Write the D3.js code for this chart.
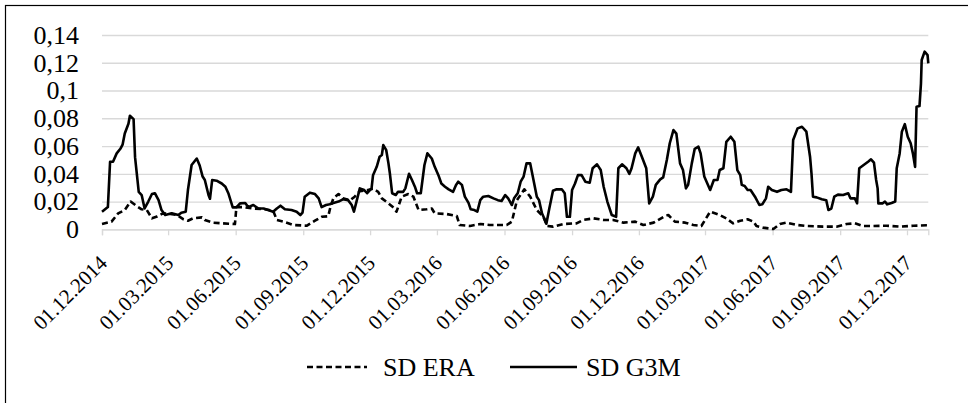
<!DOCTYPE html>
<html>
<head>
<meta charset="utf-8">
<script src="https://cdn.jsdelivr.net/npm/d3@7"></script>
<style>
  body {
    margin: 0;
    background: #fff;
  }
  svg {
    display: block;
  }
</style>
</head>
<body>
<svg id="chart" width="968" height="403"></svg>
<script>
// tick labels on the date axis (every 3 months)
const tickLabels = [
  '01.12.2014', '01.03.2015', '01.06.2015', '01.09.2015', '01.12.2015',
  '01.03.2016', '01.06.2016', '01.09.2016', '01.12.2016', '01.03.2017',
  '01.06.2017', '01.09.2017', '01.12.2017'
];
const yTicks = [0, 0.02, 0.04, 0.06, 0.08, 0.1, 0.12, 0.14];
const seriesNames = ['SD ERA', 'SD G3M'];

// SD ERA (dashed)
const eraDates = [
  '2014-12-01', '2014-12-14', '2014-12-23', '2015-01-01', '2015-01-09', '2015-01-17',
  '2015-01-24', '2015-01-31', '2015-02-07', '2015-02-13', '2015-02-22', '2015-03-04',
  '2015-03-13', '2015-03-22', '2015-03-28', '2015-04-04', '2015-04-16', '2015-04-20',
  '2015-05-01', '2015-05-15', '2015-05-31', '2015-06-02', '2015-06-11', '2015-06-25',
  '2015-07-11', '2015-07-22', '2015-07-27', '2015-08-05', '2015-08-18', '2015-09-06',
  '2015-09-17', '2015-09-26', '2015-10-05', '2015-10-08', '2015-10-12', '2015-10-19',
  '2015-10-25', '2015-11-04', '2015-11-10', '2015-11-17', '2015-11-25', '2015-12-05',
  '2015-12-12', '2015-12-17', '2015-12-26', '2016-01-01', '2016-01-06', '2016-01-13',
  '2016-01-22', '2016-01-29', '2016-02-05', '2016-02-16', '2016-02-23', '2016-02-27',
  '2016-03-14', '2016-03-28', '2016-04-01', '2016-04-15', '2016-04-29', '2016-05-12',
  '2016-06-04', '2016-06-11', '2016-06-18', '2016-06-28', '2016-07-06', '2016-07-15',
  '2016-07-24', '2016-07-29', '2016-08-06', '2016-08-20', '2016-09-07', '2016-09-16',
  '2016-09-30', '2016-10-14', '2016-10-27', '2016-11-10', '2016-11-26', '2016-12-07',
  '2016-12-21', '2017-01-06', '2017-01-10', '2017-01-19', '2017-02-02', '2017-02-13',
  '2017-02-24', '2017-03-08', '2017-03-21', '2017-03-30', '2017-04-08', '2017-04-18',
  '2017-04-28', '2017-05-06', '2017-05-10', '2017-05-19', '2017-06-02', '2017-06-11',
  '2017-06-20', '2017-07-04', '2017-07-17', '2017-08-09', '2017-08-27', '2017-09-10',
  '2017-09-21', '2017-10-02', '2017-10-16', '2017-11-03', '2017-11-21', '2017-12-10',
  '2017-12-30'
];
const eraValues = [
  0.0038, 0.0055, 0.0115, 0.0139, 0.020, 0.0168,
  0.0144, 0.0139, 0.0079, 0.009, 0.0115, 0.011,
  0.0103, 0.0072, 0.0062, 0.0079, 0.0086, 0.0067,
  0.0048, 0.0043, 0.0038, 0.016, 0.016, 0.015,
  0.0144, 0.0134, 0.0067, 0.0055, 0.0031, 0.0026,
  0.0062, 0.009, 0.0094, 0.016, 0.0223, 0.0254,
  0.0223, 0.021, 0.0235, 0.0275, 0.028, 0.0292,
  0.027, 0.0223, 0.0187, 0.016, 0.0127, 0.0235,
  0.0254, 0.0235, 0.0139, 0.0144, 0.015, 0.0115,
  0.011, 0.0096, 0.0031, 0.0024, 0.0038, 0.0031,
  0.0031, 0.0055, 0.021, 0.0288, 0.0235, 0.0139,
  0.009, 0.0024, 0.0019, 0.0038, 0.0043, 0.0067,
  0.0079, 0.0067, 0.0067, 0.0048, 0.0055, 0.0031,
  0.0048, 0.0096, 0.0103, 0.0055, 0.0048, 0.0031,
  0.0024, 0.0127, 0.0103, 0.0079, 0.0043, 0.0062,
  0.0072, 0.0055, 0.0024, 0.0012, 0.0002, 0.0038,
  0.0048, 0.0031, 0.0024, 0.0019, 0.0019, 0.0038,
  0.0043, 0.0024, 0.0024, 0.0026, 0.0019, 0.0026,
  0.0029
];

// SD G3M (solid)
const g3mDates = [
  '2014-12-01', '2014-12-09', '2014-12-12', '2014-12-16', '2014-12-21', '2014-12-26',
  '2014-12-29', '2015-01-01', '2015-01-06', '2015-01-08', '2015-01-13', '2015-01-15',
  '2015-01-20', '2015-01-24', '2015-01-28', '2015-02-02', '2015-02-07', '2015-02-11',
  '2015-02-16', '2015-02-20', '2015-02-25', '2015-03-06', '2015-03-15', '2015-03-19',
  '2015-03-25', '2015-03-28', '2015-04-02', '2015-04-09', '2015-04-13', '2015-04-17',
  '2015-04-20', '2015-04-25', '2015-04-27', '2015-04-30', '2015-05-06', '2015-05-13',
  '2015-05-18', '2015-05-22', '2015-05-28', '2015-06-02', '2015-06-07', '2015-06-14',
  '2015-06-18', '2015-06-25', '2015-07-02', '2015-07-09', '2015-07-15', '2015-07-22',
  '2015-07-27', '2015-08-01', '2015-08-07', '2015-08-16', '2015-08-23', '2015-08-28',
  '2015-08-31', '2015-09-03', '2015-09-10', '2015-09-17', '2015-09-22', '2015-09-26',
  '2015-10-02', '2015-10-07', '2015-10-12', '2015-10-19', '2015-10-25', '2015-11-01',
  '2015-11-06', '2015-11-09', '2015-11-13', '2015-11-17', '2015-11-23', '2015-11-27',
  '2015-12-03', '2015-12-05', '2015-12-10', '2015-12-14', '2015-12-17', '2015-12-19',
  '2015-12-23', '2015-12-26', '2015-12-28', '2015-12-31', '2016-01-05', '2016-01-08',
  '2016-01-15', '2016-01-18', '2016-01-23', '2016-01-27', '2016-01-31', '2016-02-03',
  '2016-02-08', '2016-02-13', '2016-02-17', '2016-02-23', '2016-02-27', '2016-03-03',
  '2016-03-07', '2016-03-12', '2016-03-17', '2016-03-23', '2016-03-27', '2016-03-30',
  '2016-04-04', '2016-04-08', '2016-04-13', '2016-04-16', '2016-04-21', '2016-04-25',
  '2016-04-29', '2016-05-03', '2016-05-10', '2016-05-17', '2016-05-23', '2016-05-28',
  '2016-06-02', '2016-06-06', '2016-06-11', '2016-06-14', '2016-06-19', '2016-06-23',
  '2016-06-27', '2016-07-01', '2016-07-06', '2016-07-10', '2016-07-15', '2016-07-18',
  '2016-07-22', '2016-07-25', '2016-07-28', '2016-08-01', '2016-08-06', '2016-08-11',
  '2016-08-18', '2016-08-22', '2016-08-25', '2016-08-29', '2016-09-01', '2016-09-05',
  '2016-09-09', '2016-09-14', '2016-09-19', '2016-09-25', '2016-09-29', '2016-10-05',
  '2016-10-10', '2016-10-14', '2016-10-19', '2016-10-25', '2016-10-31', '2016-11-03',
  '2016-11-08', '2016-11-14', '2016-11-18', '2016-11-21', '2016-11-26', '2016-11-30',
  '2016-12-05', '2016-12-11', '2016-12-15', '2016-12-20', '2016-12-24', '2016-12-30',
  '2017-01-03', '2017-01-08', '2017-01-12', '2017-01-17', '2017-01-21', '2017-01-26',
  '2017-01-30', '2017-02-03', '2017-02-06', '2017-02-11', '2017-02-15', '2017-02-20',
  '2017-02-23', '2017-02-28', '2017-03-08', '2017-03-13', '2017-03-18', '2017-03-21',
  '2017-03-26', '2017-03-30', '2017-04-05', '2017-04-10', '2017-04-14', '2017-04-18',
  '2017-04-20', '2017-04-24', '2017-04-28', '2017-05-02', '2017-05-08', '2017-05-14',
  '2017-05-18', '2017-05-23', '2017-05-26', '2017-05-31', '2017-06-07', '2017-06-13',
  '2017-06-20', '2017-06-26', '2017-06-29', '2017-07-05', '2017-07-11', '2017-07-17',
  '2017-07-22', '2017-07-24', '2017-07-26', '2017-07-31', '2017-08-07', '2017-08-13',
  '2017-08-16', '2017-08-20', '2017-08-24', '2017-08-29', '2017-09-05', '2017-09-12',
  '2017-09-15', '2017-09-21', '2017-09-24', '2017-09-27', '2017-10-03', '2017-10-09',
  '2017-10-13', '2017-10-17', '2017-10-20', '2017-10-22', '2017-10-23', '2017-10-29',
  '2017-11-01', '2017-11-04', '2017-11-10', '2017-11-15', '2017-11-17', '2017-11-21',
  '2017-11-24', '2017-11-28', '2017-12-02', '2017-12-06', '2017-12-09', '2017-12-12',
  '2017-12-14', '2017-12-18', '2017-12-20', '2017-12-21', '2017-12-25', '2017-12-29',
  '2017-12-30'
];
const g3mValues = [
  0.0127, 0.016, 0.0487, 0.0487, 0.0547, 0.058,
  0.061, 0.069, 0.076, 0.0818, 0.0794, 0.052,
  0.027, 0.0247, 0.015, 0.020, 0.0254, 0.026,
  0.021, 0.0139, 0.0103, 0.0115, 0.0103, 0.012,
  0.0127, 0.0283, 0.0463, 0.051, 0.046, 0.038,
  0.0355, 0.0247, 0.022, 0.0355, 0.035, 0.033,
  0.0307, 0.026, 0.0158, 0.0158, 0.0187, 0.019,
  0.016, 0.0175, 0.015, 0.015, 0.0139, 0.0127,
  0.015, 0.017, 0.0144, 0.0139, 0.0127, 0.0103,
  0.012, 0.0235, 0.0264, 0.0254, 0.0223, 0.016,
  0.0175, 0.018, 0.019, 0.020, 0.0216, 0.021,
  0.0175, 0.0127, 0.021, 0.0295, 0.0283, 0.026,
  0.0295, 0.039, 0.045, 0.0523, 0.0535, 0.0607,
  0.057, 0.0475, 0.040, 0.026, 0.0247, 0.027,
  0.027, 0.0295, 0.040, 0.0355, 0.0307, 0.026,
  0.026, 0.0463, 0.0547, 0.051, 0.045, 0.039,
  0.033, 0.0307, 0.0288, 0.027, 0.032, 0.0343,
  0.032, 0.0235, 0.019, 0.0144, 0.0139, 0.0127,
  0.021, 0.0235, 0.024, 0.0223, 0.021, 0.0204,
  0.0247, 0.0223, 0.0175, 0.0223, 0.026, 0.0343,
  0.038, 0.0475, 0.0475, 0.0367, 0.0235, 0.021,
  0.0115, 0.0079, 0.004, 0.015, 0.0278, 0.0288,
  0.0288, 0.026, 0.009, 0.009, 0.0283, 0.033,
  0.039, 0.039, 0.0343, 0.0336, 0.044, 0.0468,
  0.0427, 0.0307, 0.020, 0.0103, 0.009, 0.044,
  0.0468, 0.044, 0.040, 0.044, 0.0547, 0.059,
  0.0523, 0.044, 0.0187, 0.0235, 0.032, 0.036,
  0.0374, 0.050, 0.062, 0.0715, 0.069, 0.0475,
  0.0427, 0.0295, 0.032, 0.0475, 0.058, 0.0595,
  0.0547, 0.038, 0.0283, 0.0355, 0.0355, 0.0427,
  0.044, 0.063, 0.0667, 0.063, 0.0427, 0.039,
  0.032, 0.0312, 0.0283, 0.0283, 0.0235, 0.0175,
  0.018, 0.0223, 0.0307, 0.0283, 0.027, 0.0283,
  0.0288, 0.027, 0.0643, 0.0727, 0.0739, 0.0703,
  0.0523, 0.040, 0.0235, 0.023, 0.0216, 0.021,
  0.0139, 0.015, 0.0235, 0.025, 0.0247, 0.026,
  0.0223, 0.0223, 0.0187, 0.044, 0.0463, 0.0487,
  0.0504, 0.048, 0.0355, 0.0295, 0.0187, 0.0187,
  0.020, 0.018, 0.019, 0.020, 0.044, 0.0547,
  0.0703, 0.0758, 0.0667, 0.062, 0.0547, 0.045,
  0.0883, 0.0888, 0.105, 0.122, 0.128, 0.1255,
  0.1195
];

const serif = '"Liberation Serif", "Times New Roman", serif';
const parseIso = d3.utcParse('%Y-%m-%d');
const parseTick = d3.utcParse('%d.%m.%Y');
const fmtTick = d3.utcFormat('%d.%m.%Y');
const fmtY = d => String(+d.toFixed(2)).replace('.', ',');

const series = [
  {name: seriesNames[0], dash: '6,3.5', points: eraDates.map((d, i) => ({date: parseIso(d), value: eraValues[i]}))},
  {name: seriesNames[1], dash: null, points: g3mDates.map((d, i) => ({date: parseIso(d), value: g3mValues[i]}))}
];

const plot = {left: 102, right: 928.3, top: 35, bottom: 229.3};
const gridColor = '#d9d9d9';

const svg = d3.select('#chart');

// outer chart frame (right and bottom edges fall outside the picture)
svg.append('rect')
  .attr('x', 5.5)
  .attr('y', 5.5)
  .attr('width', 980)
  .attr('height', 420)
  .attr('fill', 'none')
  .attr('stroke', '#000')
  .attr('stroke-width', 1.2)
  ;

const x = d3.scaleUtc()
  .domain([parseIso('2014-12-01'), parseIso('2017-12-30')])
  .range([plot.left, plot.right])
  ;
const y = d3.scaleLinear()
  .domain([0, 0.14])
  .range([plot.bottom, plot.top])
  ;

// y axis with gridlines
const yAxis = svg.append('g')
  .attr('transform', `translate(${plot.left},0)`)
  .call(d3.axisLeft(y)
    .tickValues(yTicks)
    .tickSize(-(plot.right - plot.left))
    .tickPadding(23)
    .tickFormat(fmtY))
  ;
yAxis.select('.domain').remove();
yAxis.selectAll('.tick line')
  .attr('stroke', gridColor)
  .attr('stroke-width', 1.3)
  ;
yAxis.selectAll('.tick text')
  .style('font-family', serif)
  .style('font-size', '26px')
  .attr('fill', '#000')
  ;

// date axis
const xAxis = svg.append('g')
  .attr('transform', `translate(0,${plot.bottom})`)
  .call(d3.axisBottom(x)
    .tickValues(tickLabels.map(parseTick))
    .tickSize(6)
    .tickFormat(fmtTick))
  ;
xAxis.select('.domain')
  .attr('stroke', gridColor)
  .attr('stroke-width', 1.3)
  ;
xAxis.selectAll('.tick line')
  .attr('stroke', gridColor)
  .attr('stroke-width', 1.3)
  ;
xAxis.selectAll('.tick text')
  .style('font-family', serif)
  .style('font-size', '21px')
  .attr('fill', '#000')
  .attr('text-anchor', 'end')
  .attr('dominant-baseline', 'central')
  .attr('dy', null)
  .attr('y', 0)
  .attr('transform', 'translate(1,30) rotate(-45)')
  ;

// series lines
const line = d3.line()
  .x(d => x(d.date))
  .y(d => y(d.value))
  ;
svg.append('g')
  .selectAll('path')
  .data(series)
  .join('path')
    .attr('d', d => line(d.points))
    .attr('fill', 'none')
    .attr('stroke', '#000')
    .attr('stroke-width', 2.6)
    .attr('stroke-linejoin', 'round')
    .attr('stroke-dasharray', d => d.dash)
  ;

// legend
const legendItems = [
  {name: seriesNames[0], dash: '6,3.5', x1: 307, x2: 367, tx: 383},
  {name: seriesNames[1], dash: null, x1: 510, x2: 577, tx: 586}
];
const legend = svg.append('g')
  .attr('transform', 'translate(0,367)')
  ;
const item = legend.selectAll('g')
  .data(legendItems)
  .join('g')
  ;
item.append('line')
  .attr('x1', d => d.x1)
  .attr('x2', d => d.x2)
  .attr('stroke', '#000')
  .attr('stroke-width', 2.6)
  .attr('stroke-dasharray', d => d.dash)
  ;
item.append('text')
  .attr('x', d => d.tx)
  .attr('dominant-baseline', 'central')
  .style('font-family', serif)
  .style('font-size', '26px')
  .attr('fill', '#000')
  .text(d => d.name)
  ;
</script>
</body>
</html>
